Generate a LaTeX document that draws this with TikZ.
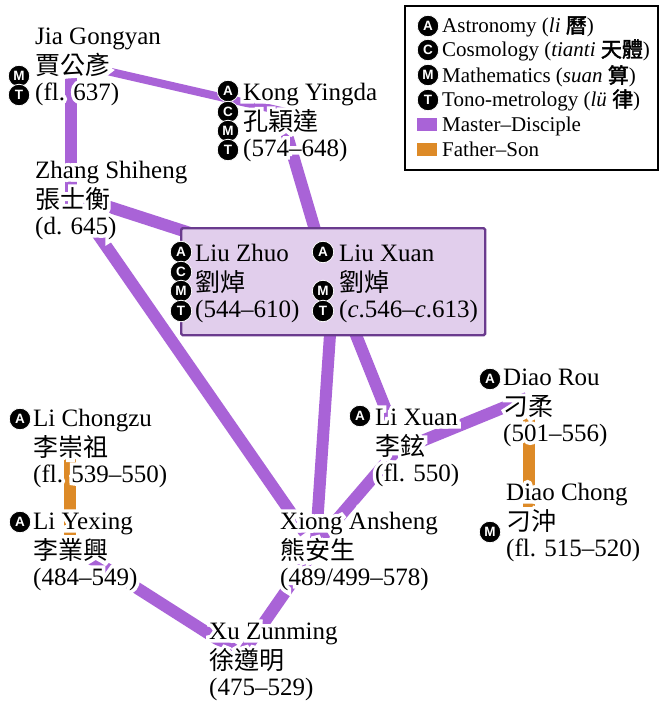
\documentclass[tikz,border=0pt]{standalone}
\usepackage{fontspec}
\usetikzlibrary{calc}
\setmainfont{Liberation Serif}
\newfontfamily\cjk{Noto Sans CJK TC}
\newfontfamily\cjkleg{Noto Sans CJK TC}[FakeBold=2]
\newfontfamily\halofont{Liberation Serif}[FakeBold=28]
\newfontfamily\halocjk{Noto Sans CJK TC}[FakeBold=28]
\newfontfamily\badgefont{Liberation Sans}[BoldFont=Liberation Sans Bold]
\definecolor{masterc}{HTML}{A963D7}
\definecolor{fatherc}{HTML}{DD8A27}
\definecolor{boxfill}{HTML}{E1CEEC}
\definecolor{boxline}{HTML}{6A3B8E}
% text with a white halo, so that connectors stop short of the letters
\newcommand\hl[1]{\leavevmode\rlap{\color{white}\halofont #1}#1}
\newcommand\hc[1]{\raisebox{-2.5pt}{\rlap{\color{white}\halocjk #1}{\cjk #1}}}
\tikzset{
  person/.style={anchor=north west,inner sep=0pt,align=left,font=\fontsize{25}{28}\selectfont},
  legtext/.style={anchor=base west,inner sep=0pt,font=\fontsize{21}{24}\selectfont},
  badge/.style={circle,fill=black,draw=white,line width=0.8pt,minimum size=21.5pt,inner sep=0pt,text=white,font=\badgefont\bfseries\fontsize{13.5}{14}\selectfont},
  master/.style={draw=masterc,line width=12pt},
  thinmaster/.style={draw=masterc,line width=8pt},
  father/.style={draw=fatherc,line width=12pt},
  groupbox/.style={draw=boxline,fill=boxfill,line width=2.4pt,rounded corners=1.5pt,minimum width=304pt,minimum height=107pt,anchor=north west,inner sep=0pt},
  legbox/.style={draw=black,fill=white,line width=2pt,minimum width=253pt,minimum height=164pt,anchor=north west,inner sep=0pt},
  swatch/.style={minimum width=20pt,minimum height=13pt,inner sep=0pt,draw=none},
}
\newcommand\pers[6]{\node[person] (#1) at (#2,#3-18) {\rule{0pt}{18pt}\hl{#4}\\\hc{#5}\\\hl{#6}};}
\newcommand\persbox[6]{\node[person] (#1) at (#2,#3-18) {\rule{0pt}{18pt}#4\\\raisebox{-2.5pt}{\cjk #5}\\#6};}
\newcommand\bdg[4]{\node[badge] (#1) at (#2,#3) {#4};}
\begin{document}
\begin{tikzpicture}[x=1pt,y=-1pt]
\useasboundingbox[fill=white] (0,0) rectangle (658,703);
% connector ends
\coordinate (jiaE) at (85,66);
\coordinate (jiaS) at (71,75);
\coordinate (kongW) at (290,113);
\coordinate (kongS) at (284,125);
\coordinate (zhangN) at (71,205);
\coordinate (zhangE) at (85,199);
\coordinate (zhangS) at (88,220);
\coordinate (boxW) at (190,233);
\coordinate (boxN) at (318,240);
\coordinate (boxS) at (331,320);
\coordinate (boxR) at (350,320);
\coordinate (xiongN) at (305,533);
\coordinate (xiongT) at (316,540);
\coordinate (xiongE) at (322,537);
\coordinate (xiongS) at (318,545);
\coordinate (lixN) at (392,425);
\coordinate (lixS) at (395,452);
\coordinate (diaoW) at (527,398);
\coordinate (diaoS) at (529,413);
\coordinate (chongN) at (529,507);
\coordinate (chongzuS) at (70,457);
\coordinate (yexingN) at (70,535);
\coordinate (yexingS) at (82,553);
\coordinate (xuW) at (250,660);
\coordinate (xuE) at (245,650);
% connectors
\draw[thinmaster] (jiaE) -- (kongW);
\draw[master] (jiaS) -- (zhangN);
\draw[master] (kongS) -- (boxN);
\draw[master] (zhangE) -- (boxW);
\draw[master] (zhangS) -- (xiongN);
\draw[master] (boxS) -- (xiongT);
\draw[master] (boxR) -- (lixN);
\draw[master] (lixS) -- (diaoW);
\draw[master] (lixS) -- (xiongE);
\draw[master] (xiongS) -- (xuE);
\draw[master] (yexingS) -- (xuW);
\draw[father] (chongzuS) -- (yexingN);
\draw[father] (diaoS) -- (chongN);
% group box
\node[groupbox] (liu) at (180,227) {};
% people
\pers{jia}{35}{44}{Jia Gongyan}{賈公彥}{(fl. 637)}
\pers{kong}{243}{100}{Kong Yingda}{孔穎達}{(574–648)}
\pers{zhang}{35}{178}{Zhang Shiheng}{張士衡}{(d. 645)}
\persbox{zhuo}{195}{261}{Liu Zhuo}{劉焯}{(544–610)}
\persbox{xuan}{339}{261}{Liu Xuan}{劉焯}{(\textit{c}.546–\textit{c}.613)}
\pers{lix}{375}{425}{Li Xuan}{李鉉}{(fl. 550)}
\pers{rou}{503}{385}{Diao Rou}{刁柔}{(501–556)}
\pers{chong}{506}{500}{Diao Chong}{刁沖}{(fl. 515–520)}
\pers{chongzu}{33}{426}{Li Chongzu}{李崇祖}{(fl. 539–550)}
\pers{yexing}{33}{529}{Li Yexing}{李業興}{(484–549)}
\pers{xiong}{280}{529}{Xiong Ansheng}{熊安生}{(489/499–578)}
\pers{xu}{209}{639}{Xu Zunming}{徐遵明}{(475–529)}
% discipline badges
\bdg{jiaM}{19}{76}{M}\bdg{jiaT}{19}{95}{T}
\bdg{kongA}{228}{91}{A}\bdg{kongC}{228}{112}{C}\bdg{kongM}{228}{131}{M}\bdg{kongT}{228}{150}{T}
\bdg{zhuoA}{181}{252}{A}\bdg{zhuoC}{181}{272}{C}\bdg{zhuoM}{181}{291}{M}\bdg{zhuoT}{181}{311}{T}
\bdg{xuanA}{323}{252}{A}\bdg{xuanM}{323}{291}{M}\bdg{xuanT}{323}{311}{T}
\bdg{lixA}{360}{416}{A}
\bdg{rouA}{490}{379}{A}
\bdg{chongM}{490}{532}{M}
\bdg{chongzuA}{20}{419}{A}
\bdg{yexingA}{20}{522}{A}
% legend
\node[legbox] (legend) at (403.5,5.5) {};
\bdg{legA}{428}{26}{A}\bdg{legC}{428}{50}{C}\bdg{legM}{428}{75}{M}\bdg{legT}{428}{100}{T}
\node[legtext] (ltA) at (442,33) {Astronomy (\textit{li} {\cjkleg 曆})};
\node[legtext] (ltC) at (442,57) {Cosmology (\textit{tianti} {\cjkleg 天體})};
\node[legtext] (ltM) at (442,83) {Mathematics (\textit{suan} {\cjkleg 算})};
\node[legtext] (ltT) at (442,107) {Tono-metrology (\textit{lü} {\cjkleg 律})};
\node[swatch,fill=masterc] (swM) at (427,124.5) {};
\node[swatch,fill=fatherc] (swF) at (427,150) {};
\node[legtext] (ltMD) at (442,132) {Master–Disciple};
\node[legtext] (ltFS) at (442,157) {Father–Son};
\end{tikzpicture}
\end{document}
